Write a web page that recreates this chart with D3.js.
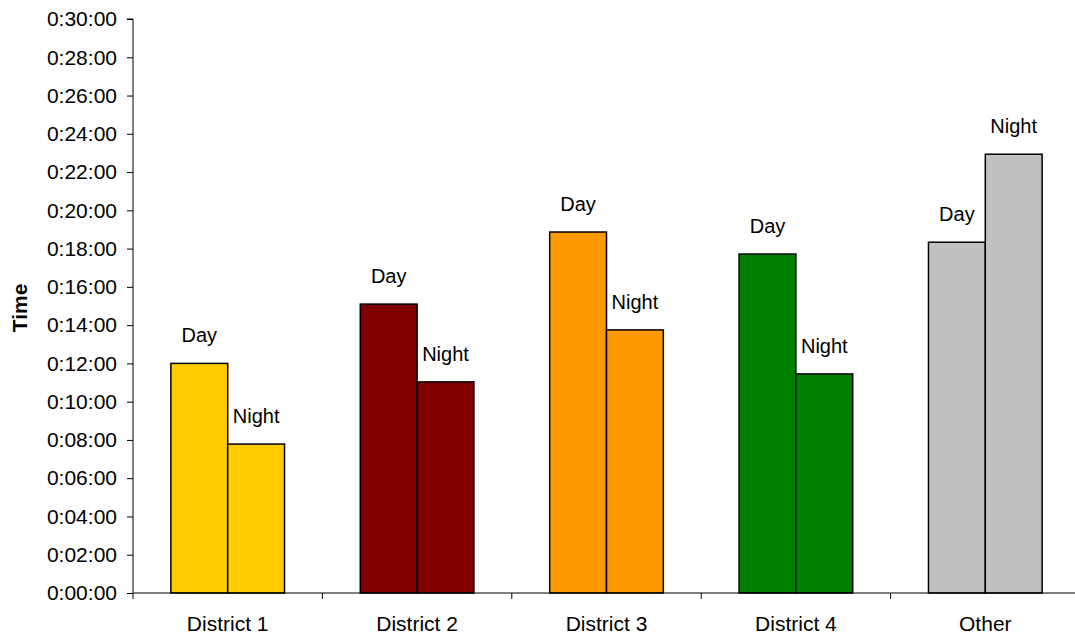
<!DOCTYPE html>
<html>
<head>
<meta charset="utf-8">
<script src="https://cdn.jsdelivr.net/npm/d3@7"></script>
<style>
  html, body { margin: 0; padding: 0; background: #fff; }
  svg { display: block; }
  text { font-family: "Liberation Sans", Arial, sans-serif; fill: #000; }
</style>
</head>
<body>
<svg id="chart" width="1075" height="637"></svg>
<script>
// Data (values in seconds)
const categories = ["District 1", "District 2", "District 3", "District 4", "Other"];
const series = ["Day", "Night"];
const daySeconds   = [12*60 + 0,  15*60 + 6,  18*60 + 52, 17*60 + 43, 18*60 + 20];
const nightSeconds = [7*60 + 47,  11*60 + 2,  13*60 + 45, 11*60 + 27, 22*60 + 56];
const colors = ["#FFCC00", "#800000", "#FF9900", "#008000", "#C0C0C0"];
const yTickValues = d3.range(0, 30*60 + 1, 120);
const yTitle = "Time";

const svg = d3.select("#chart");
const x0 = 133, x1 = 1080, yBottom = 593, yTop = 19;
const FONT = "Liberation Sans, Arial, sans-serif";

const x = d3.scaleBand().domain(categories).range([x0, x1]).paddingInner(0).paddingOuter(0);
const y = d3.scaleLinear().domain([0, 1800]).range([yBottom, yTop]);

const fmt = s => {
  const h = Math.floor(s / 3600), m = Math.floor((s % 3600) / 60), sec = s % 60;
  return h + ":" + String(m).padStart(2, "0") + ":" + String(sec).padStart(2, "0");
};

// Bars
const groupFrac = 0.6;
const barW = x.bandwidth() * groupFrac / 2;
const data = [];
categories.forEach((c, i) => {
  [daySeconds[i], nightSeconds[i]].forEach((v, j) => {
    data.push({ cat: c, series: series[j], value: v, color: colors[i], j });
  });
});
const barX = d => x(d.cat) + x.bandwidth() * (1 - groupFrac) / 2 + d.j * barW;

const g = svg.append("g");
g.selectAll("rect.bar").data(data).enter().append("rect")
  .attr("class", "bar")
  .attr("x", barX)
  .attr("y", d => y(d.value))
  .attr("width", barW)
  .attr("height", d => y(0) - y(d.value))
  .attr("fill", d => d.color)
  .attr("stroke", "#000")
  .attr("stroke-width", 1.5);

g.selectAll("text.lbl").data(data).enter().append("text")
  .attr("class", "lbl")
  .attr("x", d => barX(d) + barW / 2)
  .attr("y", d => y(d.value) - 21)
  .attr("text-anchor", "middle")
  .style("font-size", "20px")
  .text(d => d.series);

// Y axis
const yAxis = d3.axisLeft(y).tickValues(yTickValues).tickFormat(fmt).tickSize(6).tickPadding(10);
const gy = svg.append("g").attr("transform", `translate(${x0},0)`).call(yAxis);
gy.select(".domain").attr("stroke", "#000").attr("d", `M-6,${yTop}H0V${yBottom}`);
gy.selectAll(".tick line").attr("stroke", "#000");
gy.selectAll(".tick text").style("font-size", "21px").style("font-family", FONT).attr("fill", "#000");

// X axis
const xAxis = d3.axisBottom(x).tickSize(0).tickPadding(0);
const gx = svg.append("g").attr("transform", `translate(0,${yBottom})`).call(xAxis);
gx.select(".domain").attr("stroke", "#000").attr("d", `M${x0},0H${x1}`);
gx.selectAll(".tick text").style("font-size", "21px").style("font-family", FONT)
  .attr("fill", "#000").attr("y", 38).attr("dy", 0);
// category separators
gx.selectAll("line.sep").data(categories.slice(1)).enter().append("line")
  .attr("class", "sep")
  .attr("x1", d => x(d)).attr("x2", d => x(d))
  .attr("y1", 0).attr("y2", 6)
  .attr("stroke", "#000");
gx.append("line").attr("x1", x0).attr("x2", x0).attr("y1", 0).attr("y2", 6).attr("stroke", "#000");

// Y title
svg.append("text")
  .attr("transform", `translate(27,${(yTop + yBottom) / 2 + 2}) rotate(-90)`)
  .attr("text-anchor", "middle")
  .style("font-size", "21px")
  .style("font-weight", "bold")
  .text(yTitle);
</script>
</body>
</html>
